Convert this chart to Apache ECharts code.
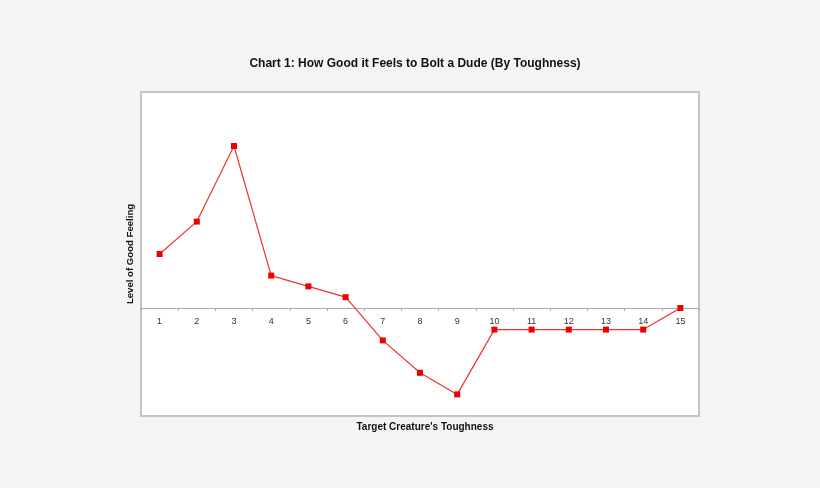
<!DOCTYPE html>
<html>
<head>
<meta charset="utf-8">
<script src="https://cdn.jsdelivr.net/npm/echarts@6/dist/echarts.min.js"></script>
<style>
  html, body { margin: 0; padding: 0; background: #f4f4f4; }
  #main { width: 820px; height: 488px; }
</style>
</head>
<body>
<div id="main"></div>
<script>
// 数据
const toughness = ['1', '2', '3', '4', '5', '6', '7', '8', '9', '10', '11', '12', '13', '14', '15'];
const goodFeeling = [2.5, 4, 7.5, 1.5, 1, 0.5, -1.5, -3, -4, -1, -1, -1, -1, -1, 0];

const chart = echarts.init(document.getElementById('main'));

chart.setOption({
    backgroundColor: '#f4f4f4',
    animation: false,
    title: [
        {
            text: 'Chart 1: How Good it Feels to Bolt a Dude (By Toughness)',
            left: 410,
            textAlign: 'center',
            top: 53,
            textStyle: { fontFamily: 'Liberation Sans', fontSize: 12, fontWeight: 'bold', color: '#111' }
        },
        {
            // x 轴名称放在图表底部
            text: "Target Creature's Toughness",
            left: 420,
            textAlign: 'center',
            top: 417,
            textStyle: { fontFamily: 'Liberation Sans', fontSize: 10, fontWeight: 'bold', color: '#111' }
        }
    ],
    grid: {
        left: 141, right: 121, top: 92, bottom: 72,
        show: true,
        backgroundColor: '#ffffff',
        borderColor: '#b4b4b4',
        borderWidth: 1.5
    },
    xAxis: {
        type: 'category',
        data: toughness,
        axisLine: { onZero: true, lineStyle: { color: '#a8a8a8', width: 1 } },
        axisTick: { show: true, length: 3, lineStyle: { color: '#a8a8a8' } },
        // v6 里标签留在底部，用负 margin 拉到零线下方
        axisLabel: { color: '#333', fontSize: 9, fontFamily: 'Liberation Sans', margin: -99 },
        splitLine: { show: false }
    },
    yAxis: {
        type: 'value',
        min: -5,
        max: 10,
        name: 'Level of Good Feeling',
        nameLocation: 'middle',
        nameGap: 6,
        nameTextStyle: { fontFamily: 'Liberation Sans', fontSize: 9.6, fontWeight: 'bold', color: '#111' },
        axisLine: { show: false },
        axisTick: { show: false },
        axisLabel: { show: false },
        splitLine: { show: false }
    },
    series: [
        {
            name: 'Good Feeling',
            type: 'line',
            data: goodFeeling,
            symbol: 'rect',
            symbolSize: 6,
            showAllSymbol: true,
            lineStyle: { color: '#f23030', width: 1.2 },
            itemStyle: { color: '#ee0000' }
        }
    ]
});
</script>
</body>
</html>
